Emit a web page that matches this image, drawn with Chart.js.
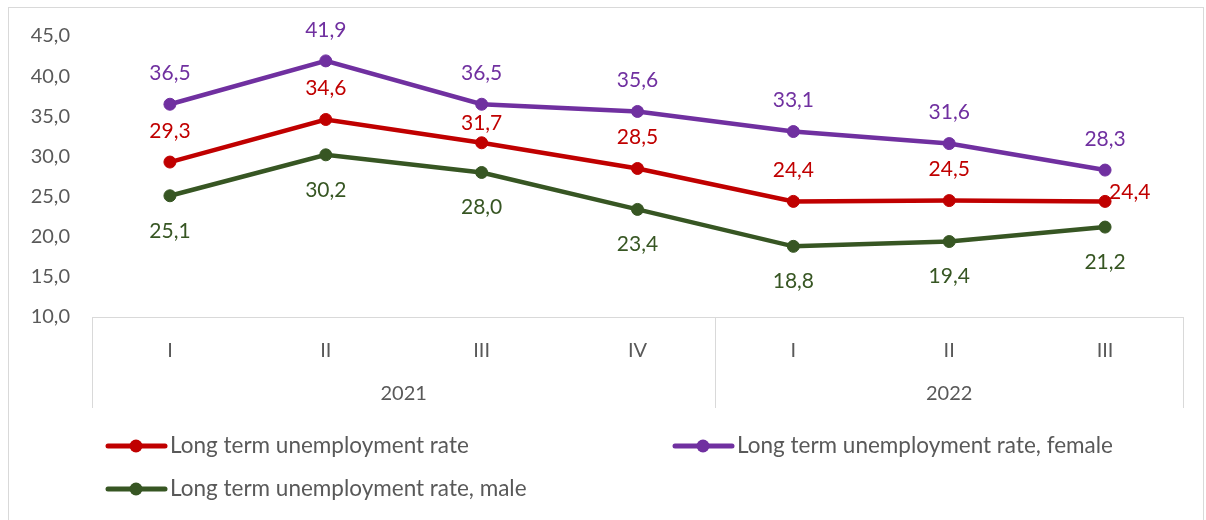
<!DOCTYPE html>
<html>
<head>
<meta charset="utf-8">
<script src="https://cdn.jsdelivr.net/npm/chart.js@4.4.0/dist/chart.umd.min.js"></script>
<style>
  html, body { margin: 0; padding: 0; background: #fff; }
  #wrap { width: 1206px; height: 520px; position: relative; }
</style>
</head>
<body>
<div id="wrap"><canvas id="chart" width="1206" height="520"></canvas></div>
<script>
// chart data
var quarters = ["I", "II", "III", "IV", "I", "II", "III"];
var years = ["2021", "2022"];
var yearSpans = [4, 3];

var totalRate = [29.3, 34.6, 31.7, 28.5, 24.4, 24.5, 24.4];
var femaleRate = [36.5, 41.9, 36.5, 35.6, 33.1, 31.6, 28.3];
var maleRate = [25.1, 30.2, 28.0, 23.4, 18.8, 19.4, 21.2];

var seriesNames = [
  "Long term unemployment rate",
  "Long term unemployment rate, female",
  "Long term unemployment rate, male"
];

var textColor = "#595959";
var fontFamily = "Lato, 'Noto Sans', sans-serif";

function fmt(v) {
  return v.toFixed(1).replace(".", ",");
}

// value labels next to each point
var pointLabels = {
  id: "pointLabels",
  afterDatasetsDraw: function(chart) {
    var ctx = chart.ctx;
    ctx.save();
    ctx.font = "21px " + fontFamily;
    chart.data.datasets.forEach(function(ds, i) {
      var meta = chart.getDatasetMeta(i);
      meta.data.forEach(function(pt, j) {
        var pos = (ds.labelPos && ds.labelPos[j]) || ds.labelSide;
        ctx.fillStyle = ds.borderColor;
        ctx.textBaseline = "middle";
        ctx.textAlign = "center";
        if (pos === "right") {
          ctx.textAlign = "left";
          ctx.fillText(fmt(ds.data[j]), pt.x + 4, pt.y - 9);
        } else if (pos === "bottom") {
          ctx.fillText(fmt(ds.data[j]), pt.x, pt.y + 35);
        } else if (pos === "near") {
          ctx.fillText(fmt(ds.data[j]), pt.x, pt.y - 20);
        } else {
          ctx.fillText(fmt(ds.data[j]), pt.x, pt.y - 31);
        }
      });
    });
    ctx.restore();
  }
};

// year groups under the quarters, frame and legend
var extras = {
  id: "extras",
  afterDraw: function(chart) {
    var ctx = chart.ctx;
    var area = chart.chartArea;
    var x = chart.scales.x;
    var top = area.bottom;
    var bottom = area.bottom + 91;
    ctx.save();

    // outer frame
    ctx.strokeStyle = "#D9D9D9";
    ctx.lineWidth = 1;
    ctx.strokeRect(8.5, 7.5, 1195, 530);

    // group separators and year labels
    var step = x.getPixelForValue(1) - x.getPixelForValue(0);
    var edges = [area.left];
    var idx = 0;
    yearSpans.forEach(function(n) {
      idx += n;
      edges.push(x.getPixelForValue(idx - 1) + step / 2);
    });
    edges[edges.length - 1] = area.right;
    ctx.beginPath();
    edges.forEach(function(e) {
      var px = Math.round(e) + 0.5;
      ctx.moveTo(px, top);
      ctx.lineTo(px, bottom);
    });
    ctx.stroke();

    ctx.fillStyle = textColor;
    ctx.font = "20px " + fontFamily;
    ctx.textAlign = "center";
    ctx.textBaseline = "middle";
    years.forEach(function(y, k) {
      ctx.fillText(y, (edges[k] + edges[k + 1]) / 2, top + 77);
    });

    // legend
    ctx.font = "22.5px " + fontFamily;
    var slots = [[108, 446], [675, 446], [108, 489]];
    chart.data.datasets.forEach(function(ds, i) {
      var sx = slots[i][0], sy = slots[i][1];
      ctx.strokeStyle = ds.borderColor;
      ctx.lineWidth = 5;
      ctx.lineCap = "round";
      ctx.beginPath();
      ctx.moveTo(sx, sy);
      ctx.lineTo(sx + 57, sy);
      ctx.stroke();
      ctx.fillStyle = ds.borderColor;
      ctx.beginPath();
      ctx.arc(sx + 28, sy, 6.5, 0, Math.PI * 2);
      ctx.fill();
      ctx.fillStyle = textColor;
      ctx.textAlign = "left";
      ctx.fillText(ds.label, sx + 62, sy);
    });
    ctx.restore();
  }
};

function line(label, data, color, side) {
  return {
    label: label,
    data: data,
    borderColor: color,
    backgroundColor: color,
    borderWidth: 4.5,
    pointRadius: 6,
    pointBorderWidth: 1,
    pointBackgroundColor: color,
    tension: 0,
    labelSide: side
  };
}

var totalSet = line(seriesNames[0], totalRate, "#C00000", "top");
totalSet.labelPos = [null, null, "near", null, null, null, "right"];

new Chart(document.getElementById("chart"), {
  type: "line",
  data: {
    labels: quarters,
    datasets: [
      totalSet,
      line(seriesNames[1], femaleRate, "#7030A0", "top"),
      line(seriesNames[2], maleRate, "#375623", "bottom")
    ]
  },
  options: {
    responsive: false,
    animation: false,
    layout: { padding: { left: 0, right: 23, top: 36, bottom: 112 } },
    plugins: {
      legend: { display: false },
      tooltip: { enabled: false }
    },
    scales: {
      x: {
        offset: true,
        grid: { display: false },
        border: { display: true, color: "#D9D9D9", width: 1 },
        ticks: {
          color: textColor,
          font: { family: fontFamily, size: 20 },
          padding: 14,
          maxRotation: 0
        },
        afterFit: function(scale) { scale.height = 91; }
      },
      y: {
        min: 10,
        max: 45,
        grid: { display: false, drawTicks: false },
        border: { display: false },
        ticks: {
          stepSize: 5,
          color: textColor,
          font: { family: fontFamily, size: 20 },
          padding: 22,
          callback: function(v) { return fmt(v); }
        },
        afterFit: function(scale) { scale.width = 92; }
      }
    }
  },
  plugins: [pointLabels, extras]
});
</script>
</body>
</html>
